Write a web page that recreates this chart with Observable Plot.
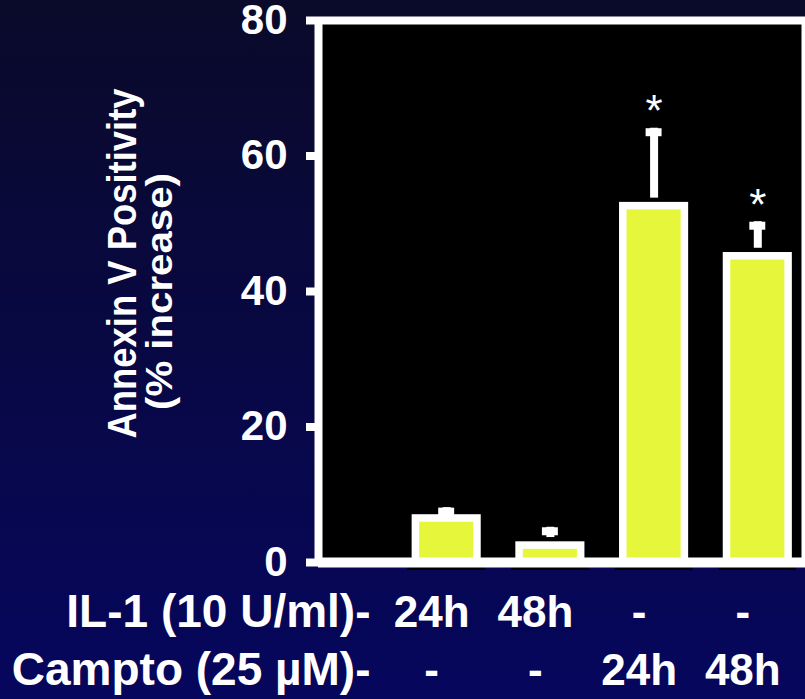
<!DOCTYPE html>
<html><head><meta charset="utf-8">
<script src="https://cdn.jsdelivr.net/npm/d3@7"></script>
<script src="https://cdn.jsdelivr.net/npm/@observablehq/plot@0.6"></script>
<style>
html,body{margin:0;padding:0;}
body{width:805px;height:699px;overflow:hidden;background:linear-gradient(#0a0a2a,#06065e);}
#chart svg{display:block;}
</style></head><body><div id="chart"></div>
<script>
const conditions = ["IL-1 24h", "IL-1 48h", "Campto 24h", "Campto 48h"];
const values = [6.5, 2.5, 52.6, 45.2];
const errors = [1.6, 2.7, 11.5, 5.1];
const sigMarks = ["", "", "*", "*"];
const il1Labels = ["24h", "48h", "-", "-"];
const camptoLabels = ["-", "-", "24h", "48h"];
const yTicks = [0, 20, 40, 60, 80];
const rowLabels = ["IL-1 (10 U/ml)-", "Campto (25 \u00b5M)-"];
const yTitle = ["Annexin V Positivity", "(% increase)"];

const data = conditions.map((c, i) => ({
  c, pos: i + 1, v: values[i], top: values[i] + errors[i],
  sig: sigMarks[i], il1: il1Labels[i], campto: camptoLabels[i]
}));
const half = 0.297, capHalf = 0.077;
const FONT = "'Liberation Sans', Arial, Helvetica, sans-serif";
const xDomain = [-0.236, 4.46];

const plot = Plot.plot({
  width: 805, height: 699,
  marginLeft: 318, marginRight: 0, marginTop: 20, marginBottom: 137,
  style: {background: "transparent", color: "white", fontFamily: FONT},
  x: {type: "linear", domain: xDomain, axis: null},
  y: {domain: [0, 80], axis: null},
  marks: [
    Plot.frame({fill: "black", stroke: null}),
    Plot.ruleX(data, {x: "pos", y1: "v", y2: "top", stroke: "white", strokeWidth: 8}),
    Plot.rectY(data, {x1: d => d.pos - half, x2: d => d.pos + half, y1: 0, y2: "v", fill: "none", stroke: "black", strokeWidth: 16}),
    Plot.rectY(data, {x1: d => d.pos - half, x2: d => d.pos + half, y1: 0, y2: "v", fill: "#e6f73b", stroke: "white", strokeWidth: 7.5}),
    Plot.ruleY(data, {x1: d => d.pos - capHalf, x2: d => d.pos + capHalf, y: "top", dy: 4, stroke: "white", strokeWidth: 8}),
    Plot.text(data.filter(d => d.sig), {x: "pos", y: "top", text: "sig", lineAnchor: "bottom", dy: -2, fontSize: 44, fill: "white"}),
    Plot.ruleY([80], {stroke: "white", strokeWidth: 8}),
    Plot.ruleY([0], {stroke: "white", strokeWidth: 10}),
    Plot.ruleX([xDomain[0]], {y1: 0, y2: 80, stroke: "white", strokeWidth: 8}),
    Plot.ruleX([xDomain[1]], {y1: 0, y2: 80, stroke: "white", strokeWidth: 4, dx: -2}),
    Plot.axisY({ticks: yTicks, tickSize: 12, tickPadding: 19, strokeWidth: 8, stroke: "white", fill: "white", fontSize: 42, fontWeight: "bold", label: null, tickFormat: d => String(d)}),
    Plot.text(data, {x: "pos", text: "il1", frameAnchor: "bottom", textAnchor: "middle", lineAnchor: "bottom", dy: 64, dx: -15, fontSize: 44, fontWeight: "bold", fill: "white"}),
    Plot.text(data, {x: "pos", text: "campto", frameAnchor: "bottom", textAnchor: "middle", lineAnchor: "bottom", dy: 122, dx: -15, fontSize: 44, fontWeight: "bold", fill: "white"}),
    Plot.text([rowLabels[0]], {text: d => d, frameAnchor: "bottom-left", textAnchor: "end", lineAnchor: "bottom", dx: 52, dy: 64, fontSize: 46, fontWeight: "bold", fill: "white"}),
    Plot.text([rowLabels[1]], {text: d => d, frameAnchor: "bottom-left", textAnchor: "end", lineAnchor: "bottom", dx: 52, dy: 122, fontSize: 46, fontWeight: "bold", fill: "white"}),
    Plot.text([yTitle[0]], {text: d => d, frameAnchor: "left", textAnchor: "middle", rotate: -90, lineAnchor: "bottom", dx: -183, dy: -28, fontSize: 40, fontWeight: "bold", fill: "white"}),
    Plot.text([yTitle[1]], {text: d => d, frameAnchor: "left", textAnchor: "middle", rotate: -90, lineAnchor: "bottom", dx: -147, dy: 0, fontSize: 36, fontWeight: "bold", fill: "white"})
  ]
});
document.getElementById("chart").appendChild(plot);
const svg = d3.select(plot);
svg.selectAll("text").filter(function() { return this.textContent === yTitle[0]; })
  .attr("textLength", 350).attr("lengthAdjust", "spacingAndGlyphs");
svg.selectAll("text").filter(function() { return this.textContent === yTitle[1]; })
  .attr("textLength", 237).attr("lengthAdjust", "spacingAndGlyphs");
</script></body></html>
